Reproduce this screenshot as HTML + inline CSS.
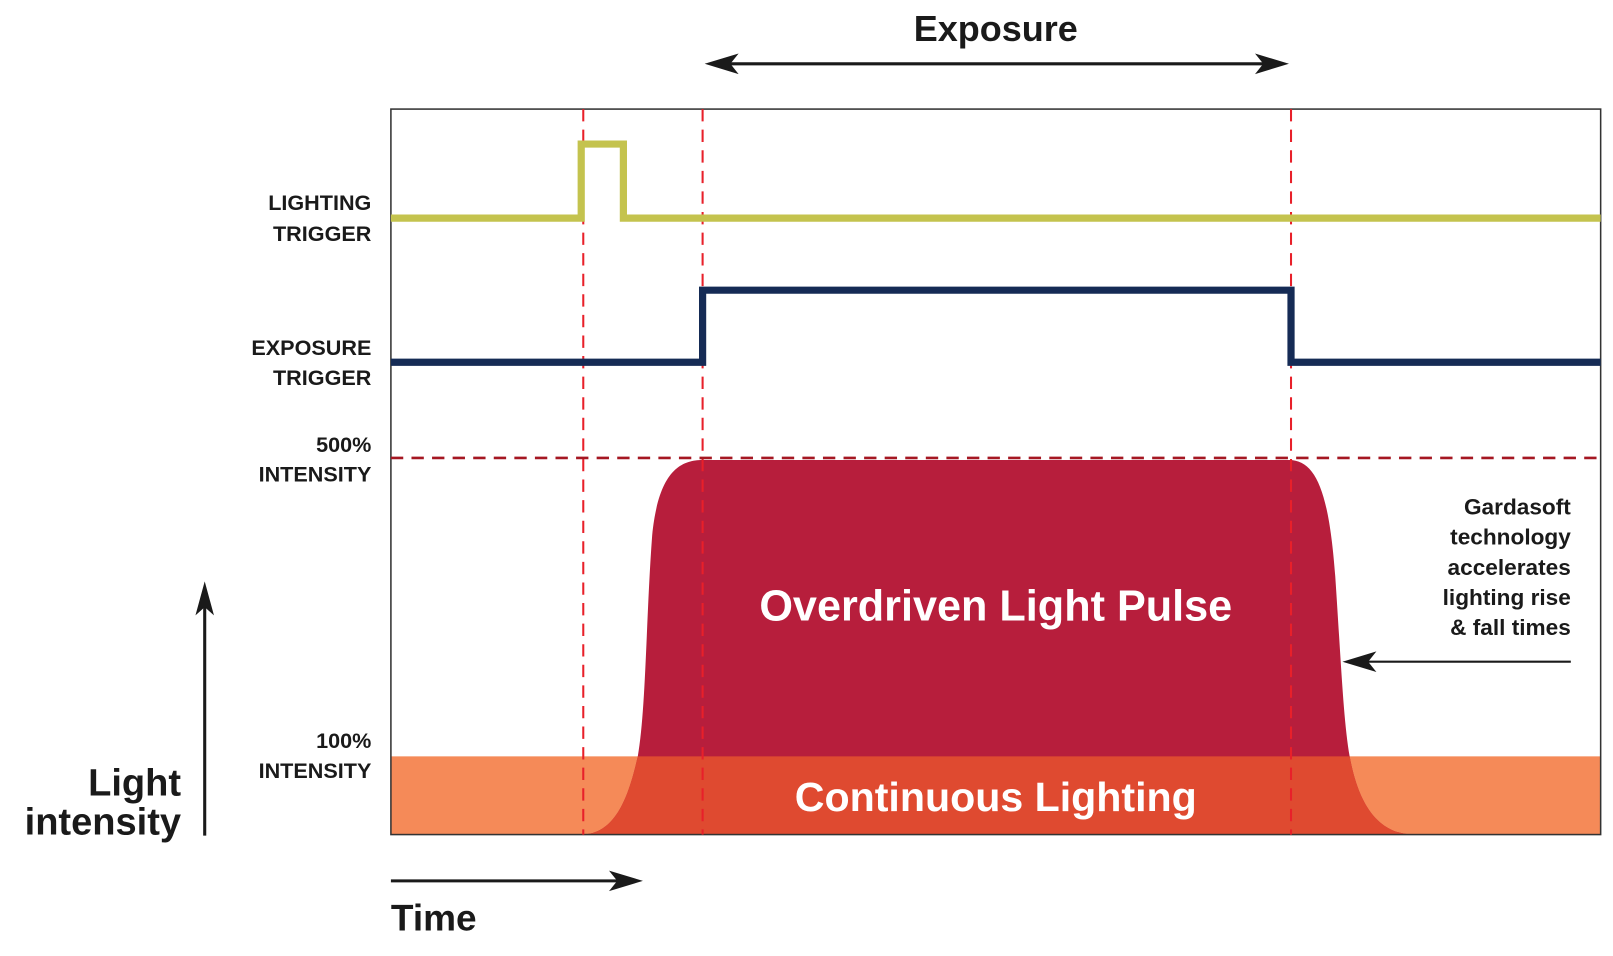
<!DOCTYPE html>
<html><head><meta charset="utf-8"><style>
html,body{margin:0;padding:0;background:#fff;}
svg{display:block;}
text{font-family:"Liberation Sans",sans-serif;fill:#1a1a1a;font-weight:bold;}
</style></head><body>
<svg width="1613" height="956" viewBox="0 0 1568 929" preserveAspectRatio="none" xmlns="http://www.w3.org/2000/svg">
<defs>
<path id="pulse" d="M565,811 C600,811 612,770 620,735 C628,690 628,600 634,520 C640,460 660,447 683,447 L1253,447 C1280,447 1292,480 1298,560 C1304,650 1306,700 1312,735 C1322,790 1345,811 1375,811 Z"/>
<clipPath id="pc"><use href="#pulse"/></clipPath>
</defs>
<rect x="380" y="735" width="1176" height="76" fill="#F58A58"/>
<use href="#pulse" fill="#B71E3C"/>
<rect x="380" y="735" width="1176" height="76" fill="#DF4A30" clip-path="url(#pc)"/>
<rect x="380" y="106" width="1176" height="705" fill="none" stroke="#333" stroke-width="1.5"/>
<g stroke="#E8202A" stroke-width="2" stroke-dasharray="12,8" fill="none">
<line x1="567" y1="106" x2="567" y2="811"/>
<line x1="683" y1="106" x2="683" y2="811"/>
<line x1="1255" y1="106" x2="1255" y2="811"/>
</g>
<line x1="380" y1="445" x2="1556" y2="445" stroke="#A51722" stroke-width="2.5" stroke-dasharray="12,8"/>
<polyline points="380,212 565,212 565,140 606,140 606,212 1556,212" fill="none" stroke="#C4C34E" stroke-width="7"/>
<polyline points="380,352 683,352 683,282 1255,282 1255,352 1556,352" fill="none" stroke="#152B55" stroke-width="7"/>
<text x="968" y="603" font-size="42" text-anchor="middle" style="fill:#fff">Overdriven Light Pulse</text>
<text x="968" y="788" font-size="40" text-anchor="middle" style="fill:#fff">Continuous Lighting</text>
<text x="968" y="40" font-size="35" text-anchor="middle">Exposure</text>
<g font-size="21" text-anchor="end">
<text x="361" y="204">LIGHTING</text><text x="361" y="234">TRIGGER</text>
<text x="361" y="345">EXPOSURE</text><text x="361" y="374">TRIGGER</text>
<text x="361" y="439">500%</text><text x="361" y="468">INTENSITY</text>
<text x="361" y="727">100%</text><text x="361" y="756">INTENSITY</text>
</g>
<g font-size="37" text-anchor="end">
<text x="176" y="773">Light</text><text x="176" y="811">intensity</text>
</g>
<text x="380" y="904" font-size="36">Time</text>
<g font-size="22" text-anchor="end">
<text x="1527" y="500">Gardasoft</text><text x="1527" y="529">technology</text>
<text x="1527" y="559">accelerates</text><text x="1527" y="588">lighting rise</text>
<text x="1527" y="617">&amp; fall times</text>
</g>
<g stroke="#1a1a1a" stroke-width="3" fill="#1a1a1a">
<line x1="700" y1="62" x2="1238" y2="62"/>
<path d="M685,62 L718,52 L710,62 L718,72 Z" stroke="none"/>
<path d="M1253,62 L1220,52 L1228,62 L1220,72 Z" stroke="none"/>
<line x1="199" y1="812" x2="199" y2="580"/>
<path d="M199,565 L190,598 L199,590 L208,598 Z" stroke="none"/>
<line x1="380" y1="856" x2="610" y2="856"/>
<path d="M625,856 L592,846 L600,856 L592,866 Z" stroke="none"/>
<line x1="1527" y1="643" x2="1320" y2="643" stroke-width="2"/>
<path d="M1305,643 L1338,633 L1330,643 L1338,653 Z" stroke="none"/>
</g>
</svg>
</body></html>
